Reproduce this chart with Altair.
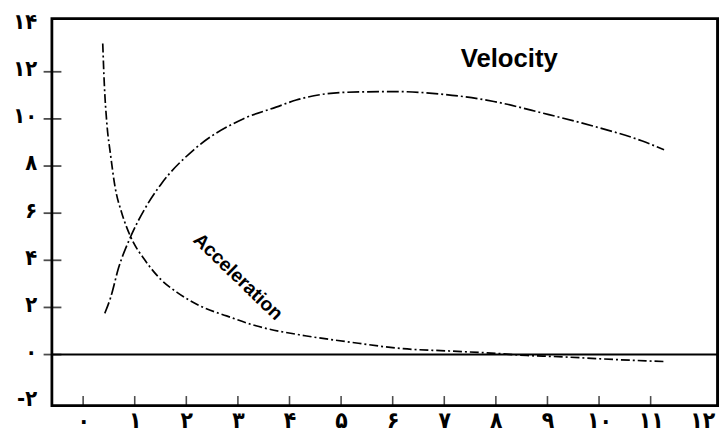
import altair as alt
import pandas as pd

# Velocity curve (time, value)
vel_t = [0.42, 0.53, 0.69, 0.92, 1.2, 1.5, 2.15, 3.1, 3.74, 4.13, 5.09, 6.05, 7.0, 7.96, 8.92, 9.88, 10.84, 11.26]
vel_v = [1.75, 2.4, 3.7, 5.0, 6.2, 7.2, 8.7, 10.0, 10.5, 10.8, 11.13, 11.16, 11.04, 10.74, 10.24, 9.7, 9.06, 8.69]

# Acceleration curve (time, value)
acc_t = [0.38, 0.41, 0.46, 0.53, 0.62, 0.75, 0.92, 1.2, 1.5, 1.82, 2.3, 2.78, 3.35, 4.3, 5.1, 6.2, 7.1, 8.0, 8.6, 9.1, 10.4, 11.3]
acc_v = [13.2, 11.5, 9.8, 8.5, 7.1, 6.0, 5.0, 4.0, 3.2, 2.64, 2.03, 1.64, 1.22, 0.8, 0.55, 0.25, 0.15, 0.05, -0.04, -0.08, -0.22, -0.3]

# Axis ticks and labels (Persian digits)
x_ticks = [0, 1, 2, 3, 4, 5, 6, 7, 8, 9, 10, 11, 12]
x_labels = ["۰", "۱", "۲", "۳", "۴", "۵", "۶", "۷", "۸", "۹", "۱۰", "۱۱", "۱۲"]
x_tick_marks = [0, 1, 2, 3, 4, 5, 6, 7, 8, 9, 10, 11]
y_ticks = [-2, 0, 2, 4, 6, 8, 10, 12, 14]
y_labels = ["-۲", "۰", "۲", "۴", "۶", "۸", "۱۰", "۱۲", "۱۴"]
y_tick_marks = [0, 2, 4, 6, 8, 10, 12]

# Frame box corners
box_t = [-0.6, 12.29]
box_v = [-2.16, 14.24]

# Annotations
ann_vel = {"text": ["Velocity"], "t": [8.26], "v": [12.55]}
ann_acc = {"text": ["Acceleration"], "t": [3.0], "v": [3.3]}

x_dom = [-0.613, 12.306]
y_dom = [-2.18, 14.27]

LABEL_FONT = "DejaVu Sans Condensed"


def label_expr(vals, labs):
    v = "[" + ",".join(str(x) for x in vals) + "]"
    l = "[" + ",".join("'" + s + "'" for s in labs) + "]"
    return f"{l}[indexof({v}, datum.value)]"


vel = pd.DataFrame({"t": vel_t, "v": vel_v})
acc = pd.DataFrame({"t": acc_t, "v": acc_v})

xs = alt.Scale(domain=x_dom, nice=False, zero=False)
ys = alt.Scale(domain=y_dom, nice=False, zero=False)

x_axis = alt.Axis(values=x_ticks, labelExpr=label_expr(x_ticks, x_labels), ticks=False, tickSize=0,
                  domain=False, grid=False, title=None,
                  labelFont=LABEL_FONT, labelFontWeight="bold",
                  labelFontSize=23, labelColor="black", labelPadding=4, labelFlush=False)
y_axis = alt.Axis(values=y_ticks, labelExpr=label_expr(y_ticks, y_labels), ticks=False, tickSize=0,
                  domain=False, grid=False, title=None,
                  labelFont=LABEL_FONT, labelFontWeight="bold",
                  labelFontSize=22, labelColor="black", labelPadding=15, labelOffset=-3, labelFlush=False)

box = alt.Chart(pd.DataFrame({"t0": [box_t[0]], "t1": [box_t[1]], "v0": [box_v[0]], "v1": [box_v[1]]})).mark_rect(
    filled=False, stroke="black", strokeWidth=2.2).encode(
    x=alt.X("t0:Q", scale=xs), x2="t1:Q", y=alt.Y("v0:Q", scale=ys), y2="v1:Q"
)

vel_line = alt.Chart(vel).mark_line(color="black", strokeWidth=1.7, strokeDash=[12, 3, 2, 3],
                                    interpolate="monotone").encode(
    x=alt.X("t:Q", scale=xs, axis=x_axis),
    y=alt.Y("v:Q", scale=ys, axis=y_axis),
)
acc_line = alt.Chart(acc).mark_line(color="black", strokeWidth=1.7, strokeDash=[9, 3, 2, 3],
                                    interpolate="monotone").encode(
    x=alt.X("t:Q", scale=xs),
    y=alt.Y("v:Q", scale=ys),
)

zero = alt.Chart(pd.DataFrame({"v": [0]})).mark_rule(color="black", strokeWidth=2).encode(
    y=alt.Y("v:Q", scale=ys)
)

ytick_layer = alt.Chart(pd.DataFrame({"v": y_tick_marks})).mark_tick(
    color="black", size=18, thickness=1.8, xOffset=1).encode(
    y=alt.Y("v:Q", scale=ys), x=alt.value(0)
)
xtick_layer = alt.Chart(pd.DataFrame({"t": x_tick_marks})).mark_tick(
    color="black", size=10, thickness=1.6, yOffset=-5).encode(
    x=alt.X("t:Q", scale=xs), y=alt.value("height")
)

vel_text = alt.Chart(pd.DataFrame(ann_vel)).mark_text(
    font="Liberation Sans", fontSize=26, fontWeight="bold", color="black",
    align="center", baseline="middle").encode(
    x=alt.X("t:Q", scale=xs), y=alt.Y("v:Q", scale=ys), text="text:N"
)
acc_text = alt.Chart(pd.DataFrame(ann_acc)).mark_text(
    font="Liberation Sans", fontSize=19.5, fontWeight="bold", color="black",
    align="center", baseline="middle", angle=44).encode(
    x=alt.X("t:Q", scale=xs), y=alt.Y("v:Q", scale=ys), text="text:N"
)

chart = alt.layer(box, vel_line, acc_line, zero, ytick_layer, xtick_layer,
                  vel_text, acc_text).properties(
    width=674, height=392,
    background="white",
    autosize=alt.AutoSizeParams(type="none"),
    padding={"left": 44, "top": 8, "right": 2, "bottom": 28},
).configure_view(stroke="black", strokeWidth=2)

chart.save("out.html", embed_options={"renderer": "svg", "actions": False})
